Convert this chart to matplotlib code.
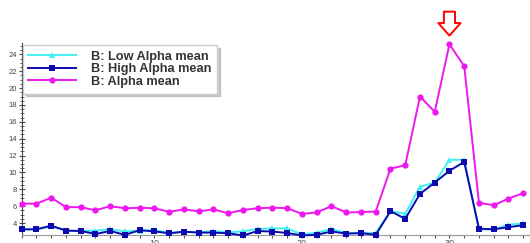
"""
Line chart - B band alpha means per epoch, with peak marker arrow
"""
import matplotlib
matplotlib.use("Agg")
import matplotlib.pyplot as plt
import numpy as np
from matplotlib.ticker import MultipleLocator

plt.rcParams["font.family"] = ["Liberation Sans", "DejaVu Sans"]

# Data
epochs = np.arange(1, 36)
low_alpha = [3.25, 3.25, 3.6, 3.1, 3.05, 3.1, 3.25, 3.0, 3.1, 3.15,
             2.85, 2.95, 2.9, 3.05, 2.9, 3.0, 3.3, 3.35, 3.35, 2.65,
             2.85, 3.3, 2.8, 2.85, 2.8, 5.4, 5.1, 8.3, 8.8, 11.5,
             11.5, 3.25, 3.25, 3.8, 3.95]
high_alpha = [3.25, 3.25, 3.68, 3.1, 3.05, 2.7, 3.05, 2.6, 3.15, 3.0,
              2.78, 2.97, 2.86, 2.86, 2.78, 2.52, 3.05, 2.98, 2.82, 2.52,
              2.6, 3.0, 2.74, 2.8, 2.6, 5.4, 4.5, 7.45, 8.8, 10.2,
              11.25, 3.33, 3.25, 3.5, 3.75]
alpha_mean = [6.3, 6.3, 7.0, 5.88, 5.88, 5.5, 6.0, 5.75, 5.8, 5.75,
              5.32, 5.62, 5.38, 5.62, 5.15, 5.55, 5.75, 5.82, 5.76, 5.08,
              5.25, 6.0, 5.25, 5.3, 5.36, 10.45, 10.85, 19.0, 17.2, 25.2,
              22.6, 6.4, 6.1, 6.9, 7.55]
peak_epoch = 30

series = [
    ("B: Low Alpha mean", low_alpha, "#3ff0f0", "^"),
    ("B: High Alpha mean", high_alpha, "#0b0bb0", "s"),
    ("B: Alpha mean", alpha_mean, "#ee18ee", "o"),
]

fig = plt.figure(figsize=(5.3, 2.43), dpi=100)
ax = fig.add_axes([0.041, 0.033, 0.959, 0.79])

for label, vals, col, mk in series:
    ax.plot(epochs, vals, color=col, marker=mk, markersize=4.5, linewidth=1.4,
            markeredgewidth=0, label=label, clip_on=False, zorder=3)

ax.set_xlim(1, 35.46)
ax.set_ylim(2.58, 25.35)
ax.yaxis.set_minor_locator(MultipleLocator(0.5))
ax.set_yticks(np.arange(4, 25, 2))
ax.xaxis.set_major_locator(MultipleLocator(10))
ax.xaxis.set_minor_locator(MultipleLocator(1))

for s in ["top", "right"]:
    ax.spines[s].set_visible(False)
ax.spines["left"].set_color("#444444")
ax.spines["bottom"].set_color("#999999")
ax.tick_params(axis="y", which="major", direction="inout", length=5,
               width=0.8, labelsize=5.5, colors="#444444", pad=1)
ax.tick_params(axis="y", which="minor", direction="inout", length=3,
               width=0.6, colors="#444444")
ax.tick_params(axis="x", which="both", direction="out", length=2.5,
               width=0.8, labelsize=6.5, colors="#555555", pad=0.5)

leg = ax.legend(loc="upper left", bbox_to_anchor=(0.002, 0.99),
                borderaxespad=0, fancybox=False, shadow={"color": "#999999"},
                framealpha=1, edgecolor="#cccccc", handlelength=3.7,
                handletextpad=1.2, labelspacing=0.05, borderpad=0.45,
                prop={"size": 9.2, "weight": "bold"})
for t in leg.get_texts():
    t.set_color("#333333")

# hollow red arrow pointing at the peak
ax.annotate("", xy=(peak_epoch, 25.9), xytext=(peak_epoch, 29.4),
            annotation_clip=False,
            arrowprops=dict(arrowstyle="simple,head_length=0.9,head_width=1.6,tail_width=0.8",
                            fc="white", ec="red", lw=1.4))

fig.savefig("out.png", dpi=100)
